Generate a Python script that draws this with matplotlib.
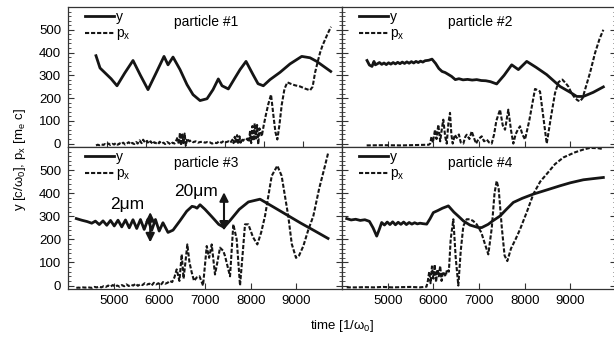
import matplotlib
matplotlib.use("Agg")
import matplotlib.pyplot as plt
from matplotlib.ticker import MultipleLocator

plt.rcParams['font.family'] = ['Liberation Sans', 'DejaVu Sans']
plt.rcParams['mathtext.fontset'] = 'custom'
plt.rcParams['mathtext.rm'] = 'Liberation Sans'
plt.rcParams['mathtext.it'] = 'Liberation Sans'
plt.rcParams['mathtext.bf'] = 'Liberation Sans:bold'

# ---- particle #1 ----
t1_y = [3715, 3818, 3950, 4100, 4252, 4450, 4661, 4850, 5044, 5250,
        5453, 5555, 5683, 5862, 6040, 6194, 6373, 6551, 6705, 6840,
        6935, 7096, 7267, 7395, 7548, 7727, 7855, 7990, 8161, 8417,
        8672, 8971, 9183, 9354, 9712]
y1 = [386, 332, 310, 285, 254, 310, 365, 300, 237, 310,
      383, 346, 380, 325, 259, 215, 189, 197, 237, 284,
      254, 240, 289, 325, 361, 303, 263, 254, 281, 313,
      350, 383, 377, 361, 317]
t1_p = [3715, 3760, 3800, 3850, 3900, 3940, 3990, 4040, 4080, 4130,
        4180, 4220, 4270, 4320, 4360, 4410, 4460, 4500, 4550, 4600,
        4640, 4690, 4740, 4780, 4830, 4880, 4920, 4970, 5020, 5060,
        5110, 5160, 5200, 5250, 5300, 5340, 5390, 5440, 5480, 5530,
        5580, 5620, 5670, 5720, 5760, 5800, 5830, 5860, 5890, 5920,
        5950, 5980, 6010, 6050, 6100, 6150, 6200, 6260, 6320, 6380,
        6440, 6500, 6560, 6620, 6680, 6740, 6800, 6860, 6920, 6980,
        7040, 7100, 7150, 7200, 7230, 7260, 7290, 7320, 7350, 7380,
        7410, 7440, 7470, 7500, 7540, 7580, 7620, 7650, 7680, 7710,
        7740, 7770, 7800, 7830, 7860, 7890, 7920, 7950, 8000, 8060,
        8120, 8187, 8250, 8300, 8348, 8400, 8460, 8530, 8603, 8700,
        8800, 8928, 9050, 9183, 9250, 9311, 9380, 9439, 9500, 9566,
        9640, 9720]
p1 = [-8, -5, -7, -3, -6, -2, -5, 0, -6, -1,
      -4, 2, -5, 1, -3, 4, -4, 0, 6, -3,
      3, -2, 7, 0, 14, 2, 17, 4, 12, 0,
      10, -2, 6, 2, -3, 8, 0, 4, -2, 7,
      2, -4, 4, 0, 12, 27, -3, 47, -8, 40,
      2, 44, -8, 22, 10, 14, 6, 10, 4, 7,
      8, 4, 7, 6, 0, 4, 2, 10, 4, 12,
      6, 10, 4, 17, 2, 30, 7, 37, -3, 32,
      4, 22, 12, 17, 14, 22, 7, 52, 2, 77,
      12, 89, 22, 82, -3, 67, 52, 32, 80, 130,
      175, 215, 120, 50, 18, 80, 170, 240, 269, 262,
      256, 251, 242, 234, 250, 311, 360, 399, 430, 456,
      485, 513]

# ---- particle #2 ----
t2_y = [4548, 4600, 4657, 4700, 4730, 4770, 4820, 4870, 4920, 4970,
        5020, 5070, 5120, 5170, 5220, 5270, 5320, 5370, 5420, 5470,
        5520, 5570, 5620, 5670, 5720, 5770, 5820, 5898, 5971, 6050,
        6120, 6190, 6260, 6335, 6400, 6481, 6560, 6650, 6750, 6850,
        6950, 7050, 7150, 7250, 7387, 7550, 7716, 7862, 8045, 8250,
        8482, 8774, 9000, 9140, 9285, 9500, 9723]
y2 = [365, 345, 339, 361, 346, 350, 356, 348, 354, 347,
      355, 349, 356, 350, 357, 351, 358, 352, 359, 353,
      360, 354, 361, 356, 362, 358, 364, 366, 371, 352,
      330, 317, 312, 303, 295, 281, 285, 280, 282, 279,
      281, 277, 276, 272, 262, 300, 346, 325, 361, 335,
      303, 251, 225, 207, 207, 225, 249]
t2_p = [4540, 4900, 5300, 5700, 5900, 5930, 5960, 5990, 6037, 6070,
        6109, 6150, 6190, 6218, 6260, 6293, 6330, 6365, 6395, 6424,
        6470, 6512, 6560, 6600, 6657, 6700, 6731, 6790, 6840, 6890,
        6935, 6990, 7059, 7110, 7169, 7220, 7278, 7330, 7380, 7460,
        7520, 7570, 7610, 7642, 7700, 7752, 7800, 7850, 7898, 7950,
        8008, 8100, 8227, 8280, 8336, 8400, 8483, 8570, 8665, 8740,
        8825, 8900, 8956, 9030, 9103, 9160, 9212, 9270, 9322, 9430,
        9541, 9640, 9723]
p2 = [-8, -7, -8, -6, -5, 0, 30, 5, 61, 20,
      83, 10, 70, 105, 30, 0, 90, 135, 40, 0,
      39, 25, 40, 5, 0, 30, 39, 20, 54, 25,
      0, 20, 32, 10, 18, 5, 0, 40, 100, 149,
      80, 61, 110, 149, 60, 0, 40, 61, 76, 40,
      18, 100, 240, 235, 229, 130, 0, 110, 222, 270,
      281, 265, 251, 220, 200, 190, 186, 200, 237, 310,
      398, 460, 500]

# ---- particle #3 ----
t3_y = [4182, 4300, 4420, 4520, 4600, 4685, 4767, 4849, 4931, 5013,
        5095, 5177, 5259, 5341, 5423, 5505, 5587, 5669, 5751, 5833,
        5915, 5997, 6079, 6190, 6300, 6450, 6600, 6716, 6780, 6825,
        6891, 7000, 7150, 7300, 7416, 7550, 7750, 7950, 8205, 8500,
        8800, 9100, 9400, 9694]
y3 = [290, 283, 277, 270, 279, 264, 280, 261, 282, 258,
      283, 254, 284, 250, 285, 247, 286, 243, 287, 239,
      286, 236, 272, 230, 240, 280, 322, 343, 340, 335,
      350, 330, 298, 265, 252, 282, 330, 362, 374, 340,
      305, 270, 237, 204]
t3_p = [4182, 4230, 4280, 4330, 4380, 4430, 4480, 4530, 4580, 4630,
        4680, 4730, 4780, 4830, 4880, 4930, 4980, 5030, 5080, 5130,
        5180, 5230, 5280, 5330, 5380, 5430, 5480, 5530, 5580, 5630,
        5680, 5730, 5780, 5830, 5880, 5930, 5980, 6030, 6080, 6130,
        6180, 6230, 6280, 6330, 6380, 6440, 6490, 6530, 6562, 6613,
        6660, 6709, 6760, 6818, 6880, 6957, 7000, 7038, 7090, 7147,
        7219, 7270, 7329, 7400, 7438, 7548, 7620, 7694, 7767, 7830,
        7876, 7949, 8050, 8146, 8230, 8314, 8461, 8584, 8678, 8823,
        8900, 8993, 9060, 9153, 9260, 9372, 9500, 9628, 9700]
p3 = [-10, -9, -10, -8, -9, -7, -9, -10, -6, -8,
      -5, -8, -3, -6, 0, -5, 2, -4, 0, -5,
      2, -3, 5, -2, 3, 0, 8, -1, 5, 2,
      10, 4, 8, 0, 12, 5, 10, 2, 15, 8,
      12, 20, 15, 35, 70, 20, 135, 30, 84, 178,
      100, 57, 20, 35, 40, 0, 90, 171, 120, 178,
      48, 100, 164, 150, 128, 40, 265, 200, 0, 150,
      265, 265, 210, 178, 230, 301, 475, 519, 475, 301,
      180, 120, 130, 171, 240, 301, 420, 519, 577]

# ---- particle #4 ----
t4_y = [4103, 4200, 4300, 4400, 4500, 4600, 4680, 4760, 4820, 4869,
        4930, 4990, 5050, 5110, 5170, 5230, 5290, 5350, 5410, 5470,
        5530, 5590, 5650, 5710, 5770, 5855, 5930, 6000, 6100, 6200,
        6293, 6329, 6450, 6550, 6657, 6800, 6985, 7059, 7200, 7300,
        7460, 7600, 7752, 7950, 8190, 8500, 8774, 9000, 9285, 9500,
        9723]
y4 = [290, 284, 287, 282, 285, 278, 250, 214, 245, 273,
      262, 275, 264, 276, 263, 274, 265, 275, 264, 273,
      266, 272, 267, 270, 268, 266, 290, 316, 325, 335,
      342, 345, 318, 300, 280, 262, 251, 251, 265, 280,
      301, 330, 360, 378, 396, 415, 432, 445, 458, 463,
      468]
t4_p = [4103, 4300, 4500, 4700, 4900, 5100, 5300, 5500, 5700, 5850,
        5880, 5910, 5940, 5970, 6000, 6030, 6060, 6090, 6120, 6150,
        6180, 6210, 6240, 6270, 6300, 6340, 6380, 6438, 6490, 6547,
        6600, 6657, 6730, 6803, 6870, 6950, 7050, 7130, 7204, 7280,
        7340, 7387, 7430, 7500, 7560, 7620, 7700, 7800, 7898, 8050,
        8190, 8340, 8483, 8665, 8850, 9103, 9300, 9431, 9600, 9723]
p4 = [-8, -8, -7, -8, -6, -8, -7, -6, -8, -5,
      20, 60, 10, 83, 30, 91, 15, 70, 40, 85,
      20, 60, 50, 40, 70, 60, 200, 287, 120, 0,
      150, 258, 287, 287, 280, 265, 230, 180, 135, 250,
      400, 453, 420, 250, 130, 106, 160, 200, 243, 320,
      396, 450, 483, 526, 555, 577, 590, 596, 595, 591]

x_ticks = [5000, 6000, 7000, 8000, 9000]
y_ticks = [0, 100, 200, 300, 400, 500]

fig = plt.figure(figsize=(6.14, 3.4), dpi=100)
W = 274 / 614
ax1 = fig.add_axes([68 / 614, 1 - 147 / 340, W, 140 / 340])
ax2 = fig.add_axes([342 / 614, 1 - 147 / 340, W, 140 / 340])
ax3 = fig.add_axes([68 / 614, 1 - 289 / 340, W, 142 / 340])
ax4 = fig.add_axes([342 / 614, 1 - 289 / 340, W, 142 / 340])

panels = [
    (ax1, t1_y, y1, t1_p, p1, "particle #1", (3000, 10000), [4000] + x_ticks),
    (ax2, t2_y, y2, t2_p, p2, "particle #2", (4000, 10000), x_ticks),
    (ax3, t3_y, y3, t3_p, p3, "particle #3", (4000, 10000), x_ticks),
    (ax4, t4_y, y4, t4_p, p4, "particle #4", (4000, 10000), x_ticks),
]

col = "#151515"
for i, (ax, ty, yy, tp, pp, title, xl, xt) in enumerate(panels):
    ax.plot(ty, yy, color=col, lw=2.0, label="y", solid_joinstyle="round")
    ax.plot(tp, pp, color=col, lw=1.5, ls="--", dashes=(2.0, 0.9), label=r"p$_x$")
    ax.set_xlim(*xl)
    ax.set_ylim(-15, 600)
    ax.set_xticks(xt)
    ax.set_yticks(y_ticks)
    ax.yaxis.set_minor_locator(MultipleLocator(20))
    ax.tick_params(direction="in", which="both", right=True, labelsize=9.5, color="#333333")
    ax.tick_params(which="major", length=4, width=0.8)
    ax.tick_params(which="minor", length=2, width=0.6)
    ax.tick_params(axis="x", pad=4)
    ax.tick_params(axis="y", pad=5)
    for s in ax.spines.values():
        s.set_linewidth(0.9)
        s.set_color("#333333")
    if i < 2:
        ax.tick_params(labelbottom=False)
    if i % 2 == 1:
        ax.tick_params(labelleft=False)
    ax.text(0.504, 0.89, title, transform=ax.transAxes, ha="center", va="center", fontsize=10)
    ax.legend(loc="upper left", bbox_to_anchor=(0.02, 1.06), frameon=False, fontsize=10,
              handlelength=2.1, handletextpad=0.15, labelspacing=0.2, borderpad=0.3)

# size markers in panel 3
ax3.annotate("", xy=(5800, 187), xytext=(5800, 318),
             arrowprops=dict(arrowstyle="<|-|>", color=col, lw=1.5, mutation_scale=13,
                             shrinkA=0, shrinkB=0))
ax3.annotate("", xy=(7416, 238), xytext=(7416, 404),
             arrowprops=dict(arrowstyle="<|-|>", color=col, lw=1.5, mutation_scale=13,
                             shrinkA=0, shrinkB=0))
ax3.text(5290, 352, "2\u03bcm", ha="center", va="center", fontsize=12.5)
ax3.text(6800, 409, "20\u03bcm", ha="center", va="center", fontsize=12.5)

fig.text(20 / 614, 1 - 160 / 340, r"y [c/$\omega_0$], p$_x$ [m$_e$ c]", rotation=90,
         ha="center", va="center", fontsize=9.5)
fig.text(342 / 614, 1 - 326 / 340, r"time [1/$\omega_0$]", ha="center", va="center", fontsize=9.5)

fig.savefig("out.png", dpi=100)
